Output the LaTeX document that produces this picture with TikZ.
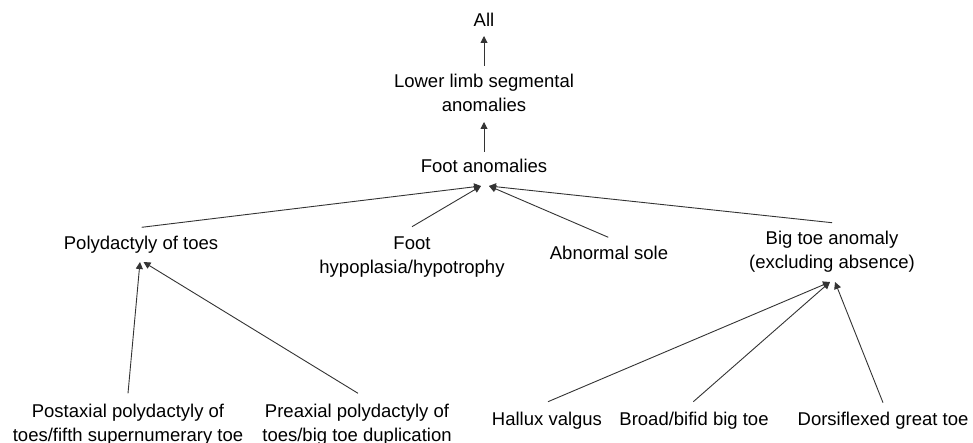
\documentclass[tikz,border=0pt]{standalone}
\usepackage{fontspec}
\setmainfont{Liberation Sans}
\usetikzlibrary{arrows.meta,calc}
\newcommand{\twolines}[2]{\vtop{\halign{\hfil##\hfil\cr #1\cr #2\cr}}}
\tikzset{
  lbl/.style={font=\fontsize{18.5}{24}\selectfont, inner sep=0pt, anchor=base, text=black},
  conn/.style={draw=black!80, line width=0.9pt, -{Triangle[length=7pt,width=7pt]}}
}
\begin{document}
\begin{tikzpicture}[x=1pt,y=-1pt]
\useasboundingbox (0,0) rectangle (973,443);
\node[lbl] (all) at (484,27) {All};
\node[lbl] (lower) at (484,88) {\twolines{Lower limb segmental}{anomalies}};
\node[lbl] (foot) at (484,173) {Foot anomalies};
\node[lbl] (poly) at (141,250) {Polydactyly of toes};
\node[lbl] (hypo) at (412,250) {\twolines{Foot}{hypoplasia/hypotrophy}};
\node[lbl] (sole) at (609,260) {Abnormal sole};
\node[lbl] (big) at (832,245) {\twolines{Big toe anomaly}{(excluding absence)}};
\node[lbl] (post) at (128,417) {\twolines{Postaxial polydactyly of}{toes/fifth supernumerary toe}};
\node[lbl] (pre) at (357,417) {\twolines{Preaxial polydactyly of}{toes/big toe duplication}};
\node[lbl] (hallux) at (547,425) {Hallux valgus};
\node[lbl] (broad) at (694,425) {Broad/bifid big toe};
\node[lbl] (dorsi) at (883,425) {Dorsiflexed great toe};

\draw[conn] ($(lower.base)+(0,-22)$) -- ($(all.base)+(0,9)$);
\draw[conn] ($(foot.base)+(0,-21)$) -- ($(lower.base)+(0,34)$);
\draw[conn] ($(poly.base)+(0.7,-22.7)$) -- ($(foot.base)+(-3,13)$);
\draw[conn] ($(hypo.base)+(0,-23.3)$) -- ($(foot.base)+(-3,13)$);
\draw[conn] ($(sole.base)+(-0.7,-22.7)$) -- ($(foot.base)+(5,13)$);
\draw[conn] ($(big.base)+(0,-22.3)$) -- ($(foot.base)+(5,13)$);
\draw[conn] ($(post.base)+(0,-23.7)$) -- ($(poly.base)+(-1,12)$);
\draw[conn] ($(pre.base)+(1,-23.7)$) -- ($(poly.base)+(2.5,12)$);
\draw[conn] ($(hallux.base)+(1,-23.3)$) -- ($(big.base)+(-2,37)$);
\draw[conn] ($(broad.base)+(-0.7,-23.3)$) -- ($(big.base)+(-2,37)$);
\draw[conn] ($(dorsi.base)+(0,-22.3)$) -- ($(big.base)+(3,37)$);
\end{tikzpicture}
\end{document}
